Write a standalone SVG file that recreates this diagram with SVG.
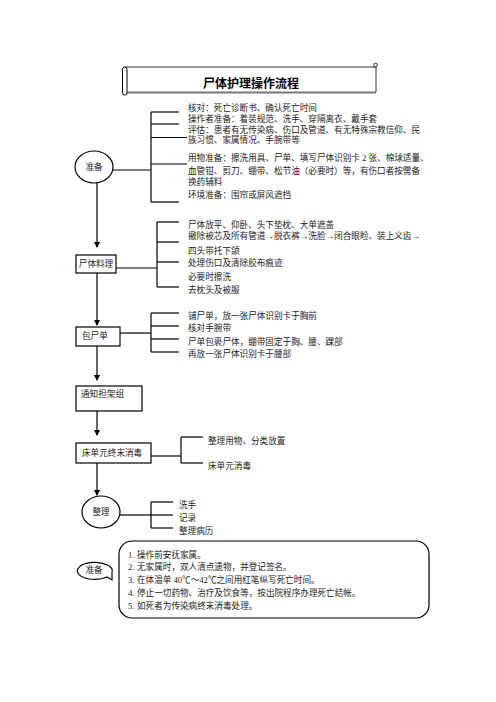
<svg xmlns="http://www.w3.org/2000/svg" width="496" height="702" viewBox="0 0 496 702">
<defs>
<marker id="arr" markerWidth="6" markerHeight="6" refX="5" refY="3" orient="auto" markerUnits="userSpaceOnUse">
<path d="M0,0 L6,3 L0,6 Z" fill="#000"/>
</marker>
<style>
.t{font-family:"Liberation Serif","Noto Sans CJK SC",serif;font-size:8.6px;fill:#222}
.n{font-family:"Liberation Serif","Noto Sans CJK SC",serif;font-size:8.6px;fill:#222}
.ln{stroke:#000;stroke-width:1.2;fill:none}
.box{fill:#fff;stroke:#000;stroke-width:1.2}
</style>
</defs>
<rect width="496" height="702" fill="#fff"/>

<g id="title">
<line x1="125" y1="67" x2="376" y2="67" stroke="#333" stroke-width="1"/>
<line x1="127" y1="92.5" x2="376" y2="92.5" stroke="#777" stroke-width="2"/>
<line x1="376" y1="65" x2="376" y2="92" stroke="#333" stroke-width="1"/>
<circle cx="375.5" cy="65" r="1.8" fill="#fff" stroke="#333" stroke-width="1"/>
<rect x="122.5" y="67" width="4.5" height="28" rx="2.2" fill="#fff" stroke="#000" stroke-width="1"/>
<text x="251" y="87.5" text-anchor="middle" font-family="Liberation Sans,'Noto Sans CJK SC',sans-serif" font-size="12" font-weight="bold" fill="#000">尸体护理操作流程</text>
</g>

<g id="connectors">
<!-- prep bracket -->
<line class="ln" x1="113" y1="170" x2="151" y2="170"/>
<line class="ln" x1="151" y1="112" x2="151" y2="202"/>
<line class="ln" x1="151" y1="112" x2="179" y2="112"/>
<line class="ln" x1="151" y1="124" x2="179" y2="124"/>
<line class="ln" x1="151" y1="137.5" x2="187" y2="137.5"/>
<line class="ln" x1="151" y1="164" x2="187" y2="164"/>
<line class="ln" x1="151" y1="202" x2="179" y2="202"/>
<line class="ln" x1="97" y1="183" x2="97" y2="247" marker-end="url(#arr)"/>
<!-- body care bracket -->
<line class="ln" x1="116" y1="268" x2="157" y2="268"/>
<line class="ln" x1="157" y1="222" x2="157" y2="287"/>
<line class="ln" x1="157" y1="222" x2="179" y2="222"/>
<line class="ln" x1="157" y1="242" x2="179" y2="242"/>
<line class="ln" x1="157" y1="262" x2="179" y2="262"/>
<line class="ln" x1="157" y1="287" x2="179" y2="287"/>
<line class="ln" x1="97" y1="273" x2="97" y2="325" marker-end="url(#arr)"/>
<!-- wrap bracket -->
<line class="ln" x1="120" y1="333" x2="151" y2="333"/>
<line class="ln" x1="151" y1="313" x2="151" y2="352"/>
<line class="ln" x1="151" y1="313" x2="179" y2="313"/>
<line class="ln" x1="151" y1="326" x2="179" y2="326"/>
<line class="ln" x1="151" y1="339" x2="179" y2="339"/>
<line class="ln" x1="151" y1="352" x2="179" y2="352"/>
<line class="ln" x1="97" y1="346" x2="97" y2="380" marker-end="url(#arr)"/>
<line class="ln" x1="97" y1="411" x2="97" y2="435" marker-end="url(#arr)"/>
<!-- disinfect bracket -->
<line class="ln" x1="151" y1="456" x2="181" y2="456"/>
<line class="ln" x1="181" y1="437" x2="181" y2="463"/>
<line class="ln" x1="181" y1="437" x2="203" y2="437"/>
<line class="ln" x1="181" y1="463" x2="203" y2="463"/>
<line class="ln" x1="97" y1="463" x2="97" y2="495" marker-end="url(#arr)"/>
<!-- tidy bracket -->
<line class="ln" x1="120" y1="515" x2="151" y2="515"/>
<line class="ln" x1="151" y1="502" x2="151" y2="528"/>
<line class="ln" x1="151" y1="502" x2="173" y2="502"/>
<line class="ln" x1="151" y1="515" x2="173" y2="515"/>
<line class="ln" x1="151" y1="528" x2="173" y2="528"/>
</g>

<g id="prep">
<ellipse cx="94" cy="167" rx="19" ry="16" class="box"/>
<text class="t" x="94" y="170" text-anchor="middle">准备</text>
</g>
<g id="prep-items">
<text class="t" x="188" y="111">核对：死亡诊断书、确认死亡时间</text>
<text class="t" x="188" y="122">操作者准备：着装规范、洗手、穿隔离衣、戴手套</text>
<text class="t" x="188" y="132.5">评估：患者有无传染病、伤口及管道、有无特殊宗教信仰、民</text>
<text class="t" x="188" y="142.5">族习惯、家属情况、手腕带等</text>
<text class="t" x="188" y="161">用物准备：擦洗用具、尸单、填写尸体识别卡 2 张、棉球适量、</text>
<text class="t" x="188" y="173.5">血管钳、剪刀、绷带、松节油（必要时）等，有伤口者按需备</text>
<text class="t" x="188" y="184.5">换药辅料</text>
<text class="t" x="188" y="197.5">环境准备：围帘或屏风遮挡</text>
</g>

<g id="bodycare">
<rect x="76" y="255" width="40" height="18" class="box"/>
<text class="t" x="96" y="267" text-anchor="middle">尸体料理</text>
</g>
<g id="bodycare-items">
<text class="t" x="188" y="228">尸体放平、仰卧、头下垫枕、大单遮盖</text>
<text class="t" x="188" y="239">撤除被芯及所有管道→脱衣裤→洗脸→闭合眼睑、装上义齿→</text>
<text class="t" x="188" y="254">四头带托下颌</text>
<text class="t" x="188" y="266">处理伤口及清除胶布痕迹</text>
<text class="t" x="188" y="280">必要时擦洗</text>
<text class="t" x="188" y="293">去枕头及被服</text>
</g>

<g id="wrap">
<rect x="76" y="327" width="44" height="19" class="box"/>
<text class="t" x="82" y="338.5">包尸单</text>
</g>
<g id="wrap-items">
<text class="t" x="188" y="319">铺尸单，放一张尸体识别卡于胸前</text>
<text class="t" x="188" y="331">核对手腕带</text>
<text class="t" x="188" y="345">尸单包裹尸体，绷带固定于胸、腰、踝部</text>
<text class="t" x="188" y="357">再放一张尸体识别卡于腰部</text>
</g>

<g id="notify">
<rect x="76" y="386" width="66" height="25" class="box"/>
<text class="t" x="81" y="397">通知担架组</text>
</g>

<g id="disinfect">
<rect x="76" y="443" width="75" height="20" class="box"/>
<text class="t" x="82" y="456">床单元终末消毒</text>
</g>
<g id="disinfect-items">
<text class="t" x="208" y="444">整理用物、分类放置</text>
<text class="t" x="208" y="469">床单元消毒</text>
</g>

<g id="tidy">
<ellipse cx="101" cy="512" rx="19" ry="16" class="box"/>
<text class="t" x="101" y="515" text-anchor="middle">整理</text>
</g>
<g id="tidy-items">
<text class="t" x="179" y="508">洗手</text>
<text class="t" x="179" y="521">记录</text>
<text class="t" x="179" y="534">整理病历</text>
</g>

<g id="notes-callout">
<path d="M107,577 A17.5,8.5 0 1 1 112,572.5 L112,580 Z" class="box"/>
<text class="t" x="94" y="573" text-anchor="middle">准备</text>
</g>

<g id="notes">
<rect x="119" y="541" width="310" height="77" rx="13" class="box"/>
<text class="n" x="128" y="558">1.</text>
<text class="t" x="137" y="558">操作前安抚家属。</text>
<text class="n" x="128" y="570">2.</text>
<text class="t" x="137" y="570">无家属时，双人清点遗物，并登记签名。</text>
<text class="n" x="128" y="583">3.</text>
<text class="t" x="137" y="583">在体温单 40℃～42℃之间用红笔纵写死亡时间。</text>
<text class="n" x="128" y="596">4.</text>
<text class="t" x="137" y="596">停止一切药物、治疗及饮食等，按出院程序办理死亡结帐。</text>
<text class="n" x="128" y="609">5.</text>
<text class="t" x="137" y="609">如死者为传染病终末消毒处理。</text>
</g>
</svg>
